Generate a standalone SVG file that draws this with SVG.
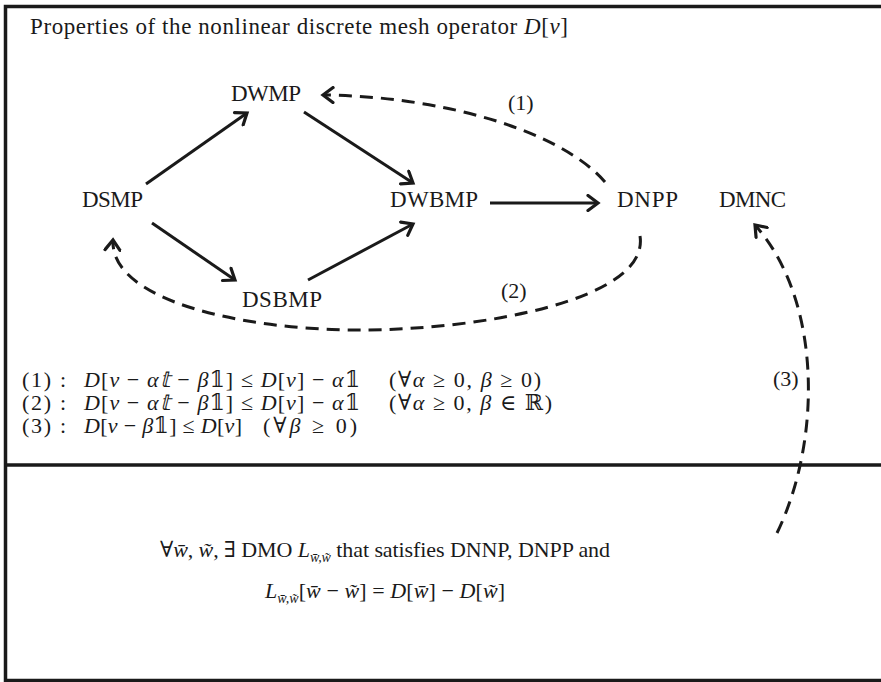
<svg xmlns="http://www.w3.org/2000/svg" width="881" height="682" viewBox="0 0 881 682">
<defs>
<style>
text{font-family:"Liberation Serif","DejaVu Serif",serif;fill:#1a1a1a}
.node{font-size:23px}
.lbl{font-size:22px}
.eq{font-size:22px}
.i{font-style:italic}
.frame{stroke:#1a1a1a;stroke-width:3.5;fill:none}
.solid{stroke:#1a1a1a;stroke-width:3;fill:none;marker-end:url(#arr)}
.dash{stroke:#1a1a1a;stroke-width:3;fill:none;stroke-dasharray:13 8;marker-end:url(#arr)}
</style>
<marker id="arr" markerUnits="userSpaceOnUse" viewBox="-13 -9 16 18" refX="0" refY="0" markerWidth="16" markerHeight="18" orient="auto">
<path d="M-10,-7.5 L0,0 L-10,7.5" fill="none" stroke="#1a1a1a" stroke-width="3.2" stroke-linecap="round" stroke-linejoin="miter"/>
</marker>
</defs>
<rect width="881" height="682" fill="#ffffff"/>
<g id="frame">
<path class="frame" d="M5.5,682 V6.5 H881"/>
<path class="frame" d="M4,680.5 H881"/>
<path class="frame" d="M4,465 H881"/>
</g>
<text x="30" y="34" font-size="23" textLength="538" lengthAdjust="spacing">Properties of the nonlinear discrete mesh operator <tspan class="i">D</tspan>[<tspan class="i">v</tspan>]</text>
<g id="connectors">
<line class="solid" x1="146" y1="184" x2="247" y2="113"/>
<line class="solid" x1="304" y1="112" x2="413" y2="183"/>
<line class="solid" x1="152" y1="223" x2="235" y2="280"/>
<line class="solid" x1="308" y1="280" x2="413" y2="224"/>
<line class="solid" x1="490" y1="203" x2="598" y2="203"/>
<path class="dash" d="M605,182 C560,130 440,96 323,95"/>
<path class="dash" d="M640,236 C650,300 480,330 360,330 C240,330 110,300 113,240"/>
<path class="dash" d="M777,533 C822,440 822,300 755,225"/>
</g>
<g id="DWMP"><text class="node" x="231" y="101" textLength="70">DWMP</text></g>
<g id="DSMP"><text class="node" x="82" y="207" textLength="61">DSMP</text></g>
<g id="DWBMP"><text class="node" x="390" y="207" textLength="88">DWBMP</text></g>
<g id="DSBMP"><text class="node" x="242" y="307" textLength="80">DSBMP</text></g>
<g id="DNPP"><text class="node" x="617" y="207" textLength="61">DNPP</text></g>
<g id="DMNC"><text class="node" x="719" y="207" textLength="67">DMNC</text></g>
<g id="labels">
<text class="lbl" x="508" y="110">(1)</text>
<text class="lbl" x="501" y="298">(2)</text>
<text class="lbl" x="773" y="386">(3)</text>
</g>
<g id="equations">
<text class="eq" x="22" y="387" textLength="44">(1) :</text>
<text class="eq" x="84" y="387" textLength="276" lengthAdjust="spacing"><tspan class="i">D</tspan>[<tspan class="i">v</tspan> − <tspan class="i">α𝕥</tspan> − <tspan class="i">β</tspan>𝟙] ≤ <tspan class="i">D</tspan>[<tspan class="i">v</tspan>] − <tspan class="i">α</tspan>𝟙</text>
<text class="eq" x="389" y="387" textLength="152" lengthAdjust="spacing">(∀<tspan class="i">α</tspan> ≥ 0, <tspan class="i">β</tspan> ≥ 0)</text>
<text class="eq" x="22" y="410" textLength="44">(2) :</text>
<text class="eq" x="84" y="410" textLength="276" lengthAdjust="spacing"><tspan class="i">D</tspan>[<tspan class="i">v</tspan> − <tspan class="i">α𝕥</tspan> − <tspan class="i">β</tspan>𝟙] ≤ <tspan class="i">D</tspan>[<tspan class="i">v</tspan>] − <tspan class="i">α</tspan>𝟙</text>
<text class="eq" x="389" y="410" textLength="163" lengthAdjust="spacing">(∀<tspan class="i">α</tspan> ≥ 0, <tspan class="i">β</tspan> ∈ ℝ)</text>
<text class="eq" x="22" y="433" textLength="44">(3) :</text>
<text class="eq" x="84" y="433" textLength="158" lengthAdjust="spacing"><tspan class="i">D</tspan>[<tspan class="i">v</tspan> − <tspan class="i">β</tspan>𝟙] ≤ <tspan class="i">D</tspan>[<tspan class="i">v</tspan>]</text>
<text class="eq" x="263" y="433" textLength="94" lengthAdjust="spacing">(∀<tspan class="i">β</tspan> ≥ 0)</text>
</g>
<g id="statement">
<text class="eq" x="160" y="557" textLength="450" lengthAdjust="spacing">∀<tspan class="i">w̄</tspan>, <tspan class="i">w̃</tspan>, ∃ DMO <tspan class="i">L</tspan><tspan class="i" font-size="14" dy="5">w̄,w̃</tspan><tspan dy="-5"> that satisfies DNNP, DNPP and</tspan></text>
<text class="eq" x="265" y="598" textLength="240" lengthAdjust="spacing"><tspan class="i">L</tspan><tspan class="i" font-size="14" dy="5">w̄,w̃</tspan><tspan dy="-5">[</tspan><tspan class="i">w̄</tspan> − <tspan class="i">w̃</tspan>] = <tspan class="i">D</tspan>[<tspan class="i">w̄</tspan>] − <tspan class="i">D</tspan>[<tspan class="i">w̃</tspan>]</text>
</g>
</svg>
